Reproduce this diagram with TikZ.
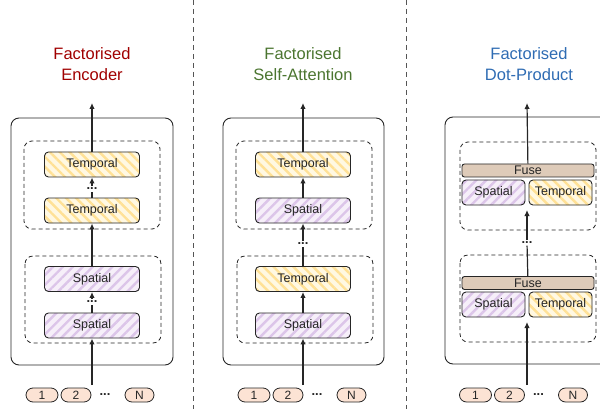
\documentclass[tikz,border=0pt]{standalone}
\usepackage{fontspec}
\setmainfont{Liberation Sans}
\usepackage{xcolor}
\usetikzlibrary{arrows.meta,patterns.meta}
\definecolor{ink}{HTML}{262626}
\definecolor{divider}{HTML}{555555}
\definecolor{tempfill}{HTML}{FFF8E2}
\definecolor{tempstripe}{HTML}{FFE196}
\definecolor{spatfill}{HTML}{F6EFF9}
\definecolor{spatstripe}{HTML}{DCC5E9}
\definecolor{fusefill}{HTML}{DECBB9}
\definecolor{pillfill}{HTML}{FCE3D4}
\definecolor{encred}{HTML}{A00000}
\definecolor{attgreen}{HTML}{4B7530}
\definecolor{dotblue}{HTML}{2F6CB3}
\tikzset{
  outerbox/.style={draw=ink, line width=0.9pt, rounded corners=8pt},
  groupbox/.style={draw=ink, line width=0.8pt, rounded corners=8pt, dash pattern=on 4pt off 3pt},
  divline/.style={draw=divider, line width=0.8pt, dash pattern=on 5pt off 4pt},
  block/.style={draw=ink, line width=0.9pt, rounded corners=4pt, minimum width=95pt, minimum height=25pt,
    inner sep=0pt, font=\fontsize{12.5}{14}\selectfont, text=ink},
  temporal/.style={block, preaction={fill=tempfill},
    preaction={pattern={Lines[angle=-45,distance=7pt,line width=2.4pt]}, pattern color=tempstripe}},
  spatial/.style={block, preaction={fill=spatfill},
    preaction={pattern={Lines[angle=45,distance=7pt,line width=2.4pt]}, pattern color=spatstripe}},
  fuse/.style={block, fill=fusefill, minimum width=132pt, minimum height=13pt, rounded corners=2.5pt},
  pill/.style={draw=ink, line width=0.8pt, fill=pillfill, rounded corners=7pt, minimum height=14pt,
    inner sep=0pt, font=\fontsize{12}{13}\selectfont, text=ink},
  dotsnode/.style={inner sep=1.5pt, font=\fontsize{13}{14}\selectfont\bfseries, text=ink},
  title/.style={align=center, font=\fontsize{16.5}{21}\selectfont},
  arr/.style={draw=ink, line width=1.2pt, -{Latex[length=6pt,width=5.5pt]}},
  link/.style={draw=ink, line width=1.2pt},
}

\begin{document}
\begin{tikzpicture}[x=1pt,y=-1pt]
  \useasboundingbox (0,0) rectangle (600,409);
  \begin{scope}
  \clip (0,0) rectangle (600,409);

  \draw[divline] (193,0) -- (193,409);
  \draw[divline] (406,0) -- (406,409);

  % titles
  \node[title, text=encred] (title1) at (92,64.5) {Factorised\\Encoder};
  \node[title, text=attgreen] (title2) at (303,64.5) {Factorised\\Self-Attention};
  \node[title, text=dotblue] (title3) at (529,64.5) {Factorised\\Dot-Product};

  % outer and group boxes
  \draw[outerbox] (11,118) rectangle (173,365);
  \draw[groupbox] (24,141) rectangle (160,229);
  \draw[groupbox] (25,256) rectangle (161,343);

  \draw[outerbox] (223,118) rectangle (384,365);
  \draw[groupbox] (236,141) rectangle (372,229);
  \draw[groupbox] (237,256) rectangle (373,343);

  \draw[outerbox] (445,117) rectangle (640,364);
  \draw[groupbox] (460,142) rectangle (596,230);
  \draw[groupbox] (460,255) rectangle (596,342);

  % panel 1
  \node[temporal] (tOneA) at (92,164.5) {Temporal};
  \node[temporal] (tOneB) at (92,210.5) {Temporal};
  \node[spatial] (sOneA) at (92,279) {Spatial};
  \node[spatial] (sOneB) at (92,325.5) {Spatial};
  \node[dotsnode] (dOneA) at (92,189) {...};
  \node[dotsnode] (dOneB) at (92,302) {...};
  \coordinate (outOne) at (92,103);
  \coordinate (srcOne) at (92,385);

  \draw[arr] (tOneA) -- (outOne);
  \draw[arr] (dOneA) -- (tOneA);
  \draw[link] (tOneB) -- (dOneA);
  \draw[arr] (sOneA) -- (tOneB);
  \draw[arr] (dOneB) -- (sOneA);
  \draw[link] (sOneB) -- (dOneB);
  \draw[arr] (srcOne) -- (sOneB);

  % panel 2
  \node[temporal] (tTwoA) at (303,164.5) {Temporal};
  \node[spatial] (sTwoA) at (303,210.5) {Spatial};
  \node[temporal] (tTwoB) at (303,279) {Temporal};
  \node[spatial] (sTwoB) at (303,325.5) {Spatial};
  \node[dotsnode] (dTwo) at (303,244) {...};
  \coordinate (outTwo) at (303,103);
  \coordinate (srcTwo) at (303,385);

  \draw[arr] (tTwoA) -- (outTwo);
  \draw[arr] (sTwoA) -- (tTwoA);
  \draw[arr] (dTwo) -- (sTwoA);
  \draw[link] (tTwoB) -- (dTwo);
  \draw[arr] (sTwoB) -- (tTwoB);
  \draw[arr] (srcTwo) -- (sTwoB);

  % panel 3
  \node[fuse] (fThreeA) at (528,170.5) {Fuse};
  \node[spatial, minimum width=63pt] (sThreeA) at (493.5,192.5) {Spatial};
  \node[temporal, minimum width=63pt] (tThreeA) at (560.5,192.5) {Temporal};
  \node[fuse] (fThreeB) at (528,283) {Fuse};
  \node[spatial, minimum width=63pt] (sThreeB) at (493.5,304.5) {Spatial};
  \node[temporal, minimum width=63pt] (tThreeB) at (560.5,304.5) {Temporal};
  \node[dotsnode] (dThree) at (527,243) {...};
  \coordinate (outThree) at (527,103);
  \coordinate (inThreeA) at (527,210);
  \coordinate (inThreeB) at (527,322);
  \coordinate (srcThree) at (527,385);

  \draw[arr] (fThreeA) -- (outThree);
  \draw[arr] (dThree) -- (inThreeA);
  \draw[link] (fThreeB) -- (dThree);
  \draw[arr] (srcThree) -- (inThreeB);

  % input tokens
  \foreach \dx/\k in {0/1,212/2,433.5/3}{
    \node[pill, minimum width=32pt] (pA\k) at (42+\dx,395) {1};
    \node[pill, minimum width=30pt] (pB\k) at (76+\dx,395) {2};
    \node[dotsnode] (pD\k) at (105+\dx,395) {...};
    \node[pill, minimum width=29pt] (pN\k) at (139.5+\dx,395) {N};
  }
  \end{scope}
\end{tikzpicture}
\end{document}
